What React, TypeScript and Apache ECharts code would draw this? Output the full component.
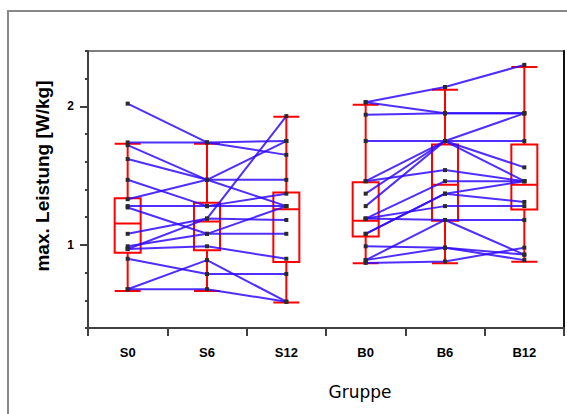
import React, { useEffect, useRef } from "react";
import * as echarts from "echarts";

// Measurement groups along the x axis
const categories = ["S0", "S6", "S12", "B0", "B6", "B12"];

// Individual trajectories, group S (S0, S6, S12)
const groupS: number[][] = [
  [2.02, 1.74, 1.75],
  [1.74, 1.74, 1.65],
  [1.72, 1.47, 1.47],
  [1.62, 1.47, 1.28],
  [1.47, 1.28, 1.37],
  [1.33, 1.47, 1.75],
  [1.28, 1.28, 1.28],
  [1.27, 1.08, 1.08],
  [1.08, 1.19, 1.93],
  [0.99, 1.08, 1.28],
  [0.97, 1.19, 1.18],
  [0.97, 0.99, 0.9],
  [0.9, 0.79, 0.79],
  [0.68, 0.89, 0.59],
  [0.68, 0.68, 0.59],
];

// Individual trajectories, group B (B0, B6, B12)
const groupB: number[][] = [
  [2.03, 2.14, 2.3],
  [2.03, 1.95, 1.95],
  [1.94, 1.95, 1.95],
  [1.75, 1.75, 1.75],
  [1.46, 1.75, 1.95],
  [1.37, 1.75, 1.56],
  [1.28, 1.75, 1.46],
  [1.46, 1.54, 1.46],
  [1.19, 1.46, 1.46],
  [1.19, 1.18, 1.18],
  [1.08, 1.37, 1.31],
  [1.19, 1.28, 1.28],
  [1.08, 1.37, 1.46],
  [0.99, 0.98, 0.93],
  [0.89, 1.18, 0.93],
  [0.87, 0.88, 0.98],
  [0.89, 0.98, 0.89],
];

// Box statistics per group: [min, Q1, median, Q3, max]
const boxMin = [0.667, 0.667, 0.585, 0.867, 0.867, 0.879];
const boxQ1 = [0.944, 0.961, 0.877, 1.06, 1.174, 1.256];
const boxMedian = [1.154, 1.169, 1.258, 1.174, 1.435, 1.435];
const boxQ3 = [1.336, 1.304, 1.379, 1.452, 1.725, 1.725];
const boxMax = [1.73, 1.73, 1.925, 2.012, 2.12, 2.285];

// Y axis tick labels
const yLabelValues = [1, 2];

export default function App() {
  const ref = useRef<HTMLDivElement>(null);

  useEffect(() => {
    if (!ref.current) return;
    const chart = echarts.init(ref.current, undefined, { renderer: "svg" });

    const boxData = categories.map((_, i) => [
      boxMin[i],
      boxQ1[i],
      boxMedian[i],
      boxQ3[i],
      boxMax[i],
    ]);

    const lineStyle = { color: "rgba(48,10,255,0.85)", width: 2 };
    const marker = {
      type: "line" as const,
      symbol: "rect",
      symbolSize: 4,
      showSymbol: true,
      itemStyle: { color: "#2a2a2a" },
      lineStyle,
      connectNulls: false,
      silent: true,
      z: 3,
    };

    const lineSeries: any[] = [
      ...groupS.map((row) => ({ ...marker, data: [...row, "-", "-", "-"] })),
      ...groupB.map((row) => ({ ...marker, data: ["-", "-", "-", ...row] })),
    ];

    const yRange = { min: 0.4, max: 2.4 };

    chart.setOption({
      animation: false,
      textStyle: { fontFamily: "Liberation Sans, Arial, sans-serif" },
      grid: {
        left: 88,
        right: 3,
        top: 51,
        bottom: 86,
        show: true,
        borderColor: "#808080",
        borderWidth: 2,
        backgroundColor: "transparent",
      },
      xAxis: {
        type: "category",
        data: categories,
        boundaryGap: true,
        axisLine: { lineStyle: { color: "#404040", width: 2 } },
        axisTick: {
          show: true,
          interval: 0,
          length: 8,
          lineStyle: { color: "#404040", width: 2 },
        },
        axisLabel: {
          color: "#000",
          fontWeight: "bold",
          fontSize: 13,
          margin: 18,
        },
        splitLine: { show: false },
      },
      yAxis: [
        {
          type: "value",
          ...yRange,
          interval: 0.2,
          position: "left",
          axisLine: { show: true, lineStyle: { color: "#404040", width: 2 } },
          axisTick: { show: true, length: 3, lineStyle: { color: "#404040", width: 2 } },
          axisLabel: {
            customValues: yLabelValues,
            color: "#000",
            fontWeight: "bold",
            fontSize: 12,
            margin: 14,
          },
          splitLine: { show: false },
        },
        {
          type: "value",
          ...yRange,
          position: "left",
          axisLine: { show: false },
          axisTick: {
            show: true,
            customValues: yLabelValues,
            length: 8,
            lineStyle: { color: "#404040", width: 2 },
          },
          axisLabel: { show: false },
          splitLine: { show: false },
        },
        {
          type: "value",
          ...yRange,
          position: "right",
          axisLine: { show: true, lineStyle: { color: "#111", width: 2 } },
          axisTick: { show: false },
          axisLabel: { show: false },
          splitLine: { show: false },
        },
      ],
      series: [
        {
          type: "boxplot",
          data: boxData,
          boxWidth: [26, 26],
          silent: true,
          itemStyle: {
            color: "rgba(0,0,0,0)",
            borderColor: "#ff0000",
            borderWidth: 2,
          },
          z: 2,
        },
        ...lineSeries,
      ],
      graphic: [
        {
          type: "rect",
          silent: true,
          z: -1,
          shape: { x: 8, y: 11, width: 700, height: 600 },
          style: { fill: "none", stroke: "#888", lineWidth: 2 },
        },
        {
          type: "text",
          x: 42,
          y: 176,
          rotation: Math.PI / 2,
          style: {
            text: "max. Leistung [W/kg]",
            font: "bold 19px 'Liberation Sans', Arial, sans-serif",
            fill: "#000",
            align: "center",
            verticalAlign: "middle",
          },
        },
        {
          type: "text",
          x: 360,
          y: 392,
          style: {
            text: "Gruppe",
            font: "17px 'DejaVu Sans', sans-serif",
            fill: "#000",
            align: "center",
            verticalAlign: "middle",
          },
        },
      ],
    });

    return () => chart.dispose();
  }, []);

  return (
    <div
      ref={ref}
      style={{
        position: "fixed",
        left: 0,
        top: 0,
        width: 567,
        height: 414,
        background: "#fff",
      }}
    />
  );
}
